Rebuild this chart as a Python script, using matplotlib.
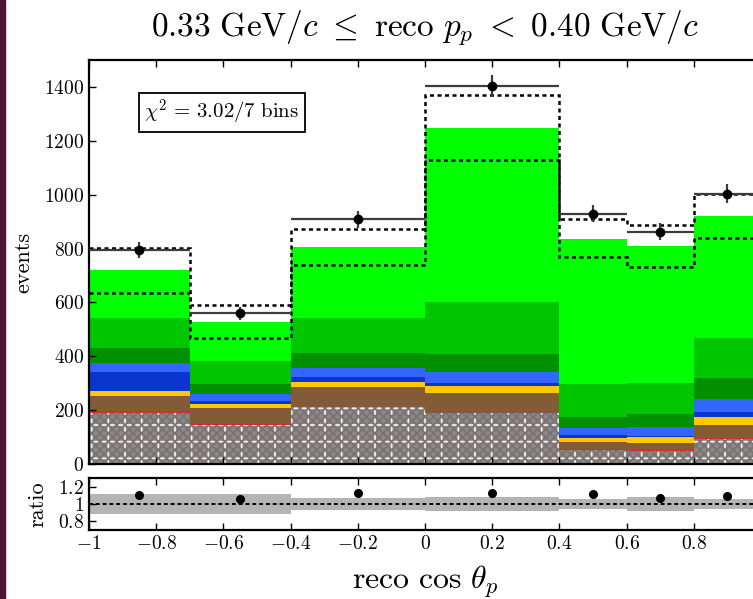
import numpy as np
import matplotlib
matplotlib.use("Agg")
import matplotlib.pyplot as plt
from matplotlib.patches import Rectangle
from matplotlib.ticker import FuncFormatter

plt.rcParams["font.family"] = "serif"
plt.rcParams["font.serif"] = ["cmr10"]
plt.rcParams["mathtext.fontset"] = "cm"
plt.rcParams["axes.formatter.use_mathtext"] = True
plt.rcParams["hatch.linewidth"] = 1.3

# bins in reco cos theta_p
bin_edges = [-1.0, -0.7, -0.4, 0.0, 0.4, 0.6, 0.8, 1.0]
tick_vals = [-1.0, -0.8, -0.6, -0.4, -0.2, 0.0, 0.2, 0.4, 0.6, 0.8]

# data
data_counts = [794, 559, 908, 1403, 930, 862, 1004]
data_errs = [30, 25, 32, 40, 32, 31, 34]

# stacked MC components (bottom -> top)
comp_names = ["ext", "red", "brown", "yellow", "dkblue", "blue", "dkgreen", "green", "ltgreen"]
comp_colors = ["#8f8888", "#d42a2a", "#835b37", "#ffc800", "#0a36cf", "#3366ff",
               "#009000", "#00c600", "#00ff00"]
ext = [188, 145, 212, 188, 52, 49, 93]
red = [4, 3, 1, 3, 2, 2, 2]
brown = [60, 59, 72, 71, 29, 26, 50]
yellow = [19, 14, 20, 27, 15, 22, 31]
dkblue = [69, 13, 19, 10, 10, 6, 18]
blue = [36, 26, 31, 44, 24, 34, 46]
dkgreen = [56, 37, 58, 64, 44, 45, 78]
green = [109, 85, 128, 195, 120, 118, 148]
ltgreen = [180, 146, 265, 644, 541, 508, 455]
components = [ext, red, brown, yellow, dkblue, blue, dkgreen, green, ltgreen]

# dashed step lines
total_pred = [803, 590, 872, 1369, 909, 889, 1004]
lower_pred = [636, 466, 738, 1128, 769, 732, 840]

# ratio band half-widths
band_unc = [0.12, 0.12, 0.07, 0.08, 0.06, 0.08, 0.06]

chi2_text = r"$\chi^2\, =\, 3.02/7\ \mathrm{bins}$"

edges = np.array(bin_edges)
lefts = edges[:-1]
widths = np.diff(edges)
centers = lefts + widths / 2

W, H = 753, 599
fig = plt.figure(figsize=(W / 100, H / 100), dpi=100)
fig.patches.append(Rectangle((0, 0), 5 / W, 1, transform=fig.transFigure,
                             color="#4b1535", zorder=10))

ax = fig.add_axes([89 / W, 1 - 464 / H, 672 / W, 404 / H])
rax = fig.add_axes([89 / W, 1 - 530 / H, 672 / W, 52 / H])

bottom = np.zeros(len(lefts))
for vals, col, name in zip(components, comp_colors, comp_names):
    vals = np.array(vals, dtype=float)
    if name == "ext":
        ax.bar(lefts, vals, width=widths, bottom=bottom, align="edge",
               color=col, edgecolor="#eeeeee", linewidth=0, hatch="+")
        # fine texture inside the grid cells
        ax.bar(lefts, vals, width=widths, bottom=bottom, align="edge",
               color="none", edgecolor="#7a7373", linewidth=0, hatch="xxxx")
    else:
        ax.bar(lefts, vals, width=widths, bottom=bottom, align="edge",
               color=col, linewidth=0)
    bottom += vals
stack_total = bottom.copy()

dash = (0, (1.6, 1.4))
ax.stairs(total_pred, edges, baseline=None, color="k", lw=1.8, linestyle=dash, zorder=4)
ax.stairs(lower_pred, edges, baseline=None, color="k", lw=1.8, linestyle=dash, zorder=4)

ax.errorbar(centers, data_counts, xerr=widths / 2, yerr=data_errs, fmt="o",
            color="k", ms=6, ecolor="#3c3c3c", elinewidth=1.6, capsize=0, zorder=5)

ax.text(-0.835, 1305, chi2_text, fontsize=15, ha="left", va="center",
        bbox=dict(boxstyle="square,pad=0.25", fc="white", ec="k", lw=1.3))

ax.set_xlim(-1, 1)
ax.set_ylim(0, 1500)
ax.set_yticks(np.arange(0, 1401, 200))
ax.set_xticks(tick_vals)
ax.tick_params(axis="x", labelbottom=False)
ax.set_ylabel("events", fontsize=16)
ax.yaxis.set_label_coords(-0.083, 0.5)
ax.set_title(r"$0.33\ \mathrm{GeV}/c\ \leq\ \mathrm{reco}\ p_p\ <\ 0.40\ \mathrm{GeV}/c$",
             fontsize=24, pad=18)

# ratio panel
ratio = np.array(data_counts) / stack_total
ratio_err = np.array(data_errs) / stack_total
unc = np.array(band_unc)
rax.stairs(1 + unc, edges, baseline=1 - unc, fill=True, color="#b4b4b4", lw=0)
rax.axhline(1, color="k", lw=1.4, linestyle=(0, (2, 1.5)))
rax.errorbar(centers, ratio, yerr=ratio_err, fmt="o", color="k", ms=5.5,
             elinewidth=1.2, capsize=0, zorder=5)
rax.set_xlim(-1, 1)
rax.set_ylim(0.7, 1.3)
rax.set_yticks([0.8, 1.0, 1.2])
rax.set_xticks(tick_vals)
fmt = FuncFormatter(lambda v, p: "$%g$" % (round(v, 2) + 0.0))
rax.yaxis.set_major_formatter(fmt)
rax.xaxis.set_major_formatter(fmt)
rax.set_ylabel("ratio", fontsize=16)
rax.yaxis.set_label_coords(-0.062, 0.5)
rax.set_xlabel(r"$\mathrm{reco}\ \cos\,\theta_p$", fontsize=23, labelpad=8)

for a in (ax, rax):
    a.tick_params(direction="in", top=True, right=True, length=5, width=1,
                  labelsize=14)
    for s in a.spines.values():
        s.set_linewidth(1.6)

fig.savefig("out.png", dpi=100)
